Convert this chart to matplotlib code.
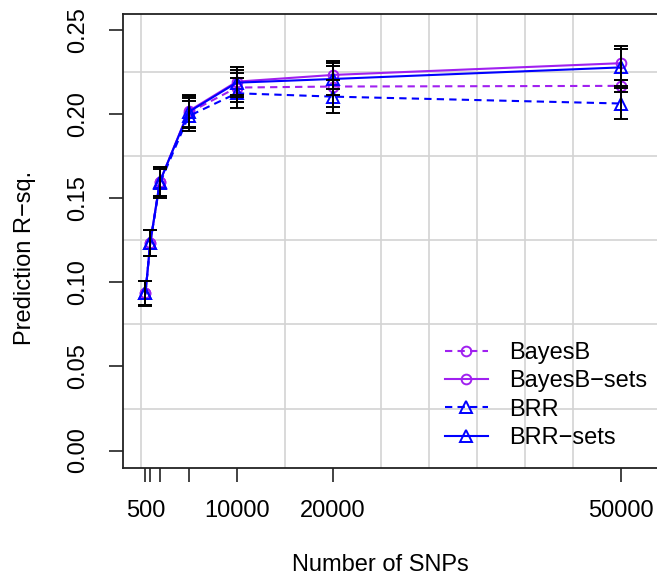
import matplotlib
matplotlib.use("Agg")
import matplotlib.pyplot as plt
from matplotlib.ticker import FixedLocator
import numpy as np

plt.rcParams['font.family'] = ['Liberation Sans', 'DejaVu Sans']

snps = [500, 1000, 2000, 5000, 10000, 20000, 50000]
tick_labels = ['500', '', '', '', '10000', '20000', '50000']

bayesb = [0.0935, 0.1235, 0.1600, 0.2010, 0.2160, 0.2166, 0.2170]
bayesb_sets = [0.0935, 0.1235, 0.1600, 0.2020, 0.2195, 0.2235, 0.2305]
brr = [0.0935, 0.1235, 0.1590, 0.1990, 0.2126, 0.2106, 0.2065]
brr_sets = [0.0935, 0.1235, 0.1600, 0.2015, 0.2189, 0.2211, 0.2280]

bayesb_se = [0.0072, 0.0078, 0.0088, 0.0090, 0.0084, 0.0120, 0.0035]
bayesb_sets_se = [0.0072, 0.0078, 0.0088, 0.0095, 0.0089, 0.0085, 0.0103]
brr_se = [0.0073, 0.0078, 0.0088, 0.0090, 0.0089, 0.0096, 0.0095]
brr_sets_se = [0.0072, 0.0078, 0.0088, 0.0095, 0.0076, 0.0094, 0.0108]

purple = '#A020F0'
blue = '#0000FF'
fs = 17

fig = plt.figure(figsize=(6.57, 5.81), dpi=100)
ax = fig.add_axes([0.1868, 0.1945, 0.8332, 0.7815])

series = [
    (bayesb, bayesb_se, purple, 'o', 7, True, 'BayesB'),
    (bayesb_sets, bayesb_sets_se, purple, 'o', 7, False, 'BayesB\u2212sets'),
    (brr, brr_se, blue, '^', 9, True, 'BRR'),
    (brr_sets, brr_sets_se, blue, '^', 9, False, 'BRR\u2212sets'),
]

for vals, se, col, mk, ms, dashed, lab in series:
    line, = ax.plot(snps, vals, color=col, marker=mk, markersize=ms,
                    markerfacecolor='none', markeredgecolor=col,
                    markeredgewidth=1.4, lw=1.5, label=lab, zorder=3)
    if dashed:
        line.set_dashes((3.5, 2.5))
    ax.errorbar(snps, vals, yerr=se, fmt='none', ecolor='black',
                elinewidth=1.4, capsize=5, capthick=1.4, zorder=4)

ax.set_xlim(-1863, 55090)
ax.set_ylim(-0.0104, 0.2598)

ax.set_xticks(snps)
ax.set_xticklabels(tick_labels)
yt = [0.0, 0.05, 0.10, 0.15, 0.20, 0.25]
ax.set_yticks(yt)
ax.set_yticklabels([f'{v:.2f}' for v in yt], rotation=90, va='center')

ax.xaxis.set_minor_locator(FixedLocator(np.arange(0, 50001, 5000)))
ax.yaxis.set_minor_locator(FixedLocator(np.arange(0, 0.2501, 0.025)))
ax.grid(which='minor', color='#d3d3d3', lw=1.2)
ax.grid(which='major', visible=False)
ax.tick_params(which='minor', length=0)
ax.tick_params(which='major', direction='out', length=10, width=1.2,
               color='#222222', labelsize=fs)
ax.tick_params(axis='x', pad=13)
ax.tick_params(axis='y', pad=14)
ax.set_axisbelow(True)

for s in ['left', 'bottom', 'top']:
    ax.spines[s].set_color('#222222')
    ax.spines[s].set_linewidth(1.3)
ax.spines['right'].set_visible(False)

fig.text(25 / 657, 1 - 258 / 581, 'Prediction R\u2212sq.', rotation=90,
         ha='center', va='center', fontsize=fs)
fig.text(380 / 657, 1 - 565 / 581, 'Number of SNPs', ha='center',
         va='center', fontsize=fs)

ax.legend(loc='center left', bbox_to_anchor=(445 / 657, 1 - 395.5 / 581),
          bbox_transform=fig.transFigure, frameon=False, fontsize=fs,
          handlelength=1.8, handletextpad=0.9, labelspacing=0.27,
          borderpad=0, borderaxespad=0)

fig.savefig('out.png', dpi=100)
